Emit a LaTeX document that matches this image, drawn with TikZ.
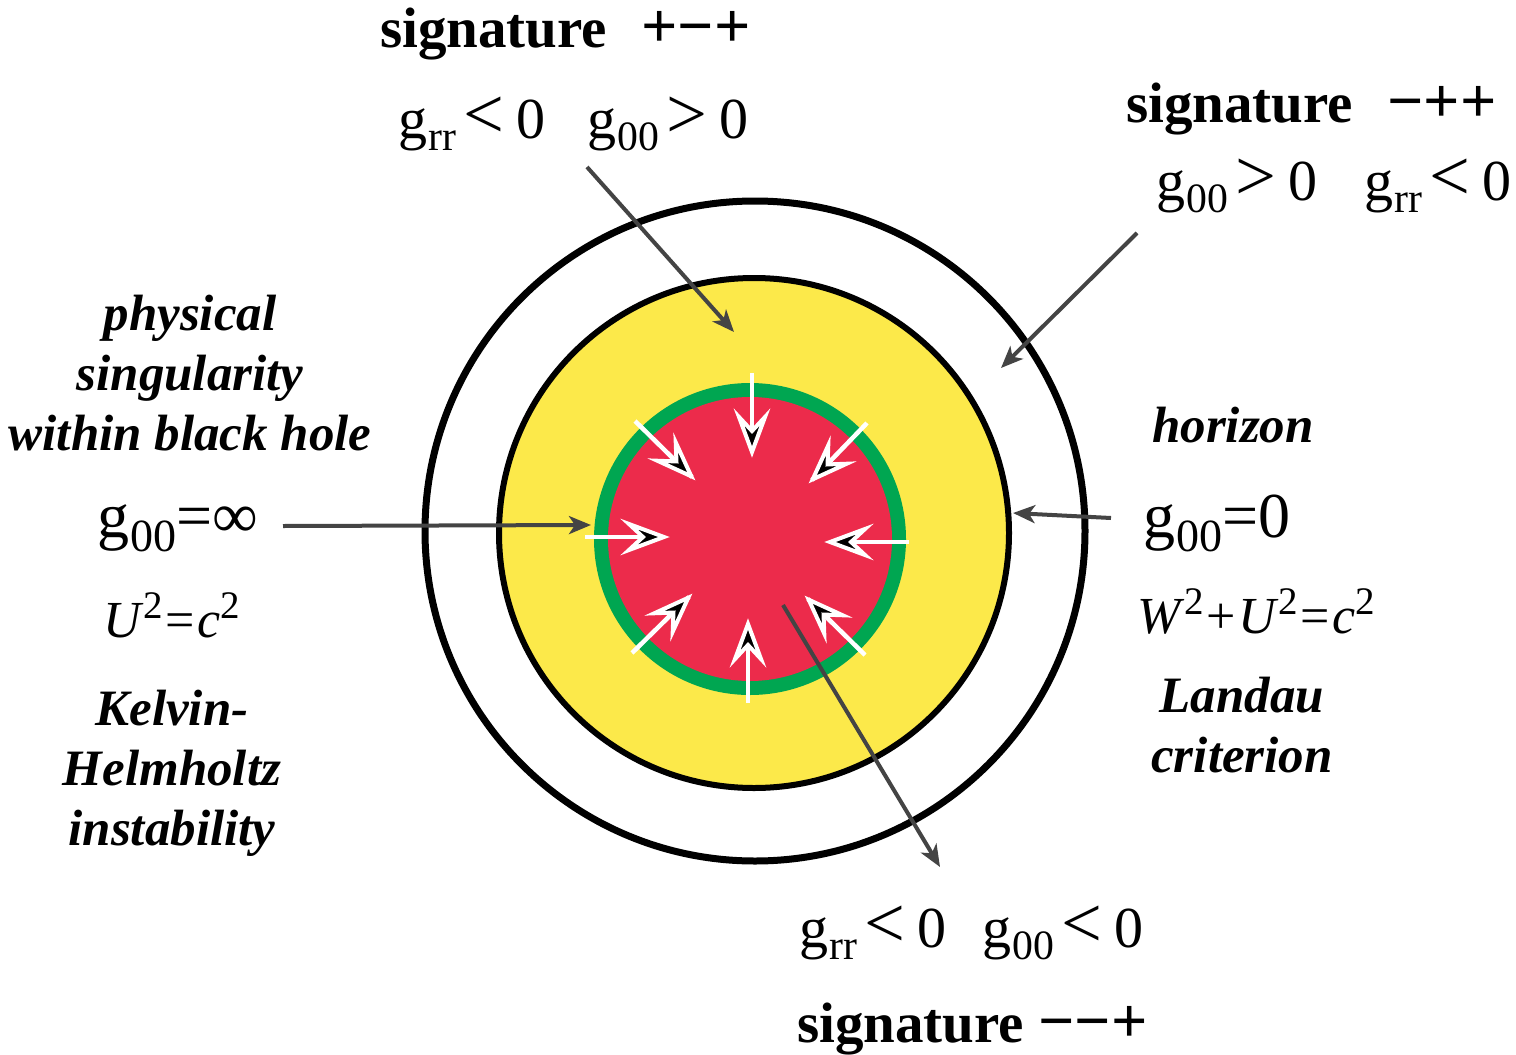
\documentclass[tikz,border=0pt]{standalone}
\usepackage{fontspec}
\setmainfont{Liberation Serif}
\usepackage{graphicx}
\usetikzlibrary{arrows.meta}
\definecolor{ylw}{RGB}{252,233,74}
\definecolor{rd}{RGB}{236,43,75}
\definecolor{grn}{RGB}{0,166,81}
\definecolor{gry}{RGB}{68,68,68}
\newcommand{\gsb}[1]{g\kern0.02em\raisebox{-0.22em}{\scalebox{0.72}{#1}}}
\newcommand{\sqr}{\raisebox{0.36em}{\scalebox{0.75}{2}}}
\newcommand{\rel}[1]{\hspace{0.12em}\scalebox{1.25}{#1}\hspace{0.22em}}
\newcommand{\sgn}[1]{\scalebox{1.12}{#1}}
\tikzset{
  eqtxt/.style={font=\fontsize{58}{60}\selectfont, anchor=base west, inner sep=0pt},
  bigeq/.style={font=\fontsize{64}{66}\selectfont, anchor=base west, inner sep=0pt},
  smeq/.style={font=\fontsize{52}{55}\selectfont, anchor=base west, inner sep=0pt},
  sigtxt/.style={font=\fontsize{57}{60}\selectfont\bfseries, anchor=base west, inner sep=0pt},
  bitxt/.style={font=\fontsize{51}{55}\selectfont\bfseries\itshape, anchor=base, inner sep=0pt},
  pointer/.style={draw=gry, line width=4pt, -{Stealth[length=22pt,width=18pt,inset=6pt]}},
  inline/.style={draw=white, line width=4.5pt},
  inhead/.pic={\draw[white, line width=4pt, line join=miter, fill=black]
     (-1,0) -- (-36,13) -- (-22,0) -- (-36,-13) -- cycle;},
}
\begin{document}
\begin{tikzpicture}[x=1pt,y=-1pt]
\useasboundingbox (0,0) rectangle (1516,1055);
\fill[white] (0,0) rectangle (1516,1055);

% circles
\draw[line width=7pt, fill=white] (755,531) circle[radius=330];
\draw[line width=6pt, fill=ylw] (754,533) circle[radius=255];
\fill[grn] (750,539) circle[radius=156];
\fill[rd] (750,539) circle[radius=142];

% white inward arrows
\coordinate (a1s) at (752,373); \coordinate (a1e) at (752,453);
\coordinate (a2s) at (748,703); \coordinate (a2e) at (748,623);
\coordinate (a3s) at (585,537); \coordinate (a3e) at (665,537);
\coordinate (a4s) at (909,542); \coordinate (a4e) at (829,542);
\coordinate (a5s) at (635,421); \coordinate (a5e) at (692,477);
\coordinate (a6s) at (867,423); \coordinate (a6e) at (812,480);
\coordinate (a7s) at (632,653); \coordinate (a7e) at (689,597);
\coordinate (a8s) at (865,655); \coordinate (a8e) at (808,599);
\foreach \i/\ang in {1/-90,2/90,3/0,4/180,5/-45,6/-135,7/45,8/135}{
  \draw[inline] (a\i s) -- (a\i e);
  \pic[rotate=\ang] at (a\i e) {inhead};
}

% texts top
\node[sigtxt] (sig1) at (380,47) {signature\hspace{0.6em}\sgn{+−+}};
\node[eqtxt] (t1a) at (398,138) {\gsb{rr}\rel{<}0};
\node[eqtxt] (t1b) at (587,138) {\gsb{00}\rel{>}0};

\node[sigtxt] (sig2) at (1126,122) {signature\hspace{0.6em}\sgn{−++}};
\node[eqtxt] (t2a) at (1156,200) {\gsb{00}\rel{>}0};
\node[eqtxt] (t2b) at (1364,200) {\gsb{rr}\rel{<}0};

\node[eqtxt] (t3a) at (799,947) {\gsb{rr}\rel{<}0};
\node[eqtxt] (t3b) at (982,947) {\gsb{00}\rel{<}0};
\node[sigtxt] (sig3) at (797,1042) {signature \sgn{−−+}};

% left texts
\node[bitxt] (l1) at (190,330) {physical};
\node[bitxt] (l2) at (190,390) {singularity};
\node[bitxt] (l3) at (190,450) {within black hole};
\node[bigeq] (l4) at (97,537) {\gsb{00}=∞};
\node[smeq] (l5) at (103,637) {\textit{U}\sqr\hspace{0.05em}=\hspace{0.05em}\textit{c}\sqr};
\node[bitxt] (l6) at (172,725) {Kelvin-};
\node[bitxt] (l7) at (172,785) {Helmholtz};
\node[bitxt] (l8) at (172,845) {instability};

% right texts
\node[bitxt] (r1) at (1233,442) {horizon};
\node[bigeq] (r2) at (1143,537) {\gsb{00}=0};
\node[smeq] (r3) at (1137,633) {\textit{W}\sqr\hspace{0.05em}+\hspace{0.05em}\textit{U}\sqr\hspace{0.05em}=\hspace{0.05em}\textit{c}\sqr};
\node[bitxt] (r4) at (1242,712) {Landau};
\node[bitxt] (r5) at (1242,772) {criterion};

% pointers
\coordinate (p1s) at (587,167); \coordinate (p1e) at (734,332);
\coordinate (p2s) at (1137,233); \coordinate (p2e) at (1001,368);
\coordinate (p3s) at (283,526); \coordinate (p3e) at (591,525);
\coordinate (p4s) at (1111,518); \coordinate (p4e) at (1013,513);
\coordinate (p5s) at (783,605); \coordinate (p5e) at (940,867);
\foreach \i in {1,...,5} \draw[pointer] (p\i s) -- (p\i e);
\end{tikzpicture}
\end{document}
